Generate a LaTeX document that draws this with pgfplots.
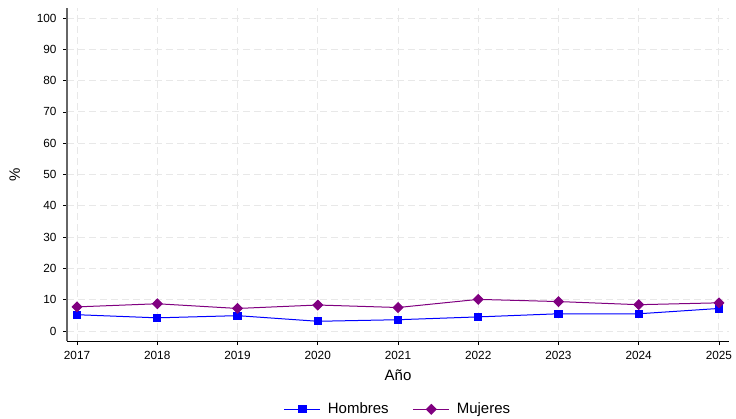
\documentclass[border=0pt]{standalone}
\usepackage{pgfplots}
\pgfplotsset{compat=1.18}
\usepackage{fontspec}
\setmainfont{Liberation Sans}
\definecolor{hcol}{RGB}{0,0,255}
\definecolor{mcol}{RGB}{128,0,128}
\definecolor{gridc}{RGB}{232,232,232}
\begin{document}
\begin{tikzpicture}[x=1pt,y=1pt]
\useasboundingbox (0,0) rectangle (736,418);
\begin{axis}[
  at={(67pt,77pt)}, anchor=south west,
  width=662pt, height=333pt, scale only axis,
  xmin=2016.875, xmax=2025.125,
  ymin=-3.2, ymax=103.2,
  xtick={2017,...,2025},
  ytick={0,10,...,100},
  xticklabel style={/pgf/number format/1000 sep={}, yshift=-3pt},
  yticklabel style={xshift=-3pt},
  /pgf/number format/assume math mode=true,
  tick label style={font=\fontsize{11.8}{14}\selectfont},
  axis x line*=bottom, axis y line*=left,
  x axis line style={black, line width=0.8pt, -},
  y axis line style={black!60, line width=1.2pt, -},
  tick align=outside,
  major tick length=4pt,
  tick style={black, line width=0.6pt},
  grid=major,
  major grid style={gridc, dash pattern=on 7pt off 4pt, line width=0.9pt},
  xlabel={Año}, ylabel={\%},
  label style={font=\fontsize{15}{17}\selectfont},
  xlabel style={yshift=-3pt},
  ylabel style={yshift=10pt},
  legend style={at={(0.5,-0.205)}, anchor=center, draw=none, fill=none,
    legend columns=2, font=\fontsize{15}{17}\selectfont,
    /tikz/every odd column/.append style={column sep=5pt},
    /tikz/every even column/.append style={column sep=22pt}},
  legend image code/.code={\draw[#1] (0pt,0pt) -- (36pt,0pt); \draw[#1,only marks] plot coordinates {(18pt,0pt)};},
  clip=false,
]
\addplot[color=hcol, line width=1pt, mark=square*, mark size=3.6pt, mark options={solid}]
  coordinates {(2017,5.2) (2018,4.2) (2019,4.9) (2020,3.1) (2021,3.6) (2022,4.5) (2023,5.5) (2024,5.5) (2025,7.2)};
\addlegendentry{Hombres}
\addplot[color=mcol, line width=1pt, mark=square*, mark size=3.4pt, mark options={solid, rotate=45}]
  coordinates {(2017,7.7) (2018,8.7) (2019,7.2) (2020,8.3) (2021,7.5) (2022,10.1) (2023,9.4) (2024,8.4) (2025,9.0)};
\addlegendentry{Mujeres}
\end{axis}
\end{tikzpicture}
\end{document}
